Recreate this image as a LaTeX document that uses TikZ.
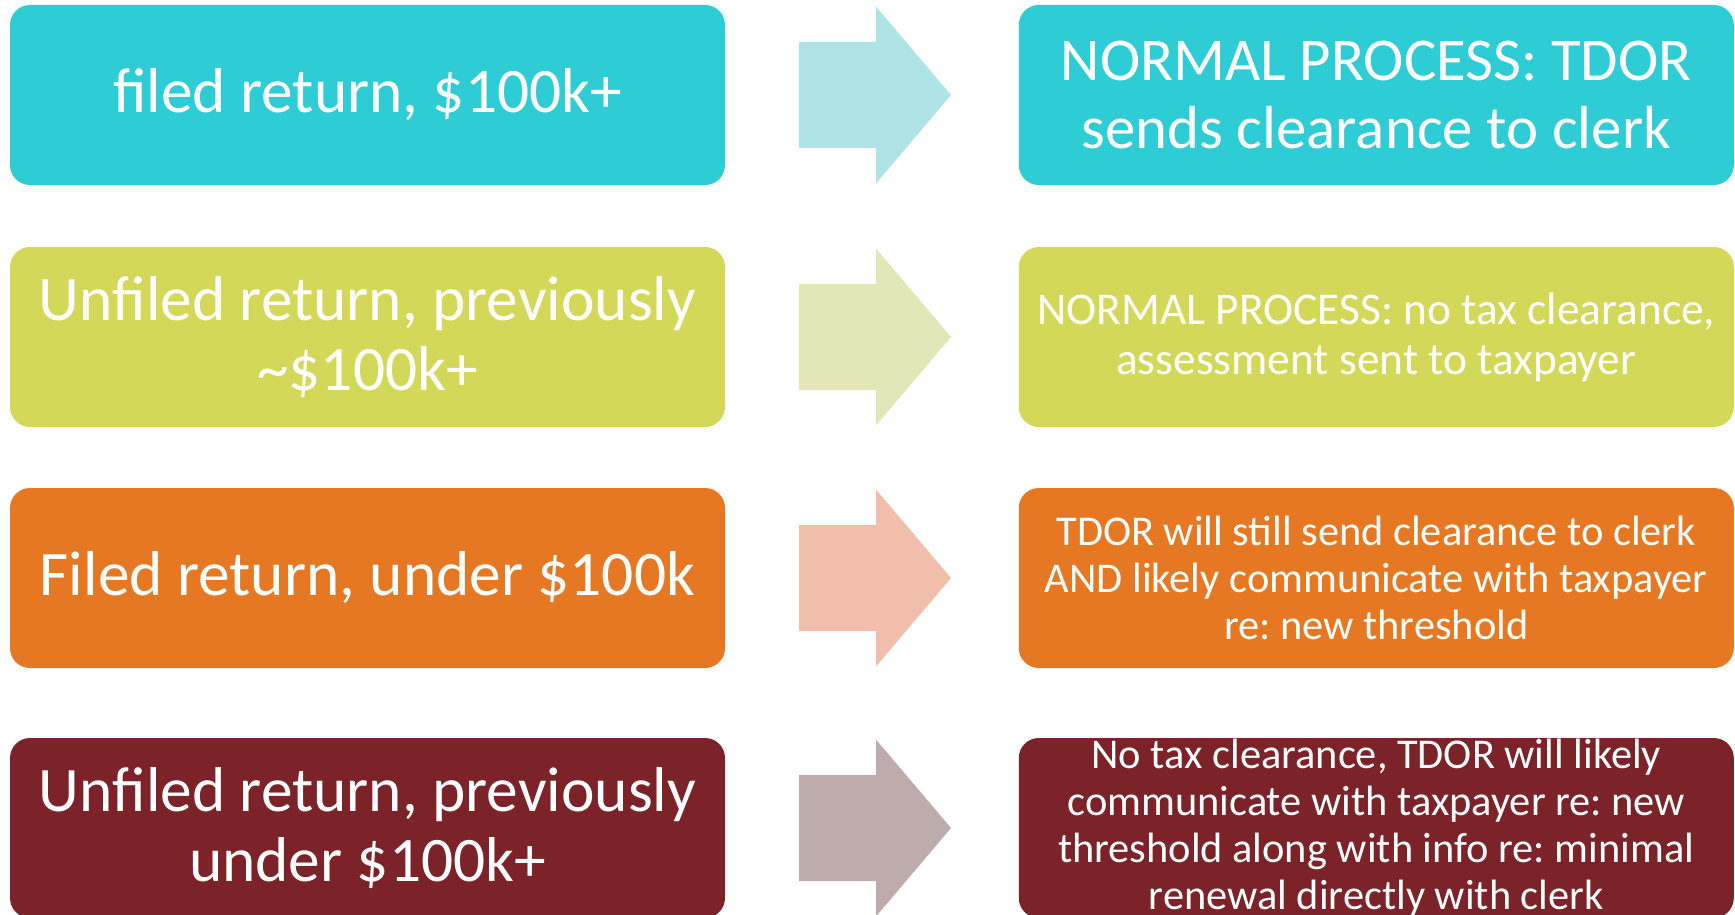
\documentclass[tikz,border=0pt]{standalone}
\usepackage{fontspec}
\setmainfont{Carlito}
\usetikzlibrary{positioning}
\frenchspacing

\definecolor{tealbox}{RGB}{46,204,212}
\definecolor{tealpale}{RGB}{176,227,230}
\definecolor{limebox}{RGB}{212,216,88}
\definecolor{limepale}{RGB}{227,230,183}
\definecolor{orangebox}{RGB}{231,120,35}
\definecolor{orangepale}{RGB}{242,190,172}
\definecolor{maroonbox}{RGB}{123,35,40}
\definecolor{maroonpale}{RGB}{190,172,172}

\tikzset{
  box/.style={rectangle, rounded corners=10pt, minimum width=357.5pt,
    minimum height=90pt, inner sep=0pt, text=white, align=center},
  bigtxt/.style={font=\fontsize{31.7}{35}\selectfont},
  midtxt/.style={font=\fontsize{30.4}{33.7}\selectfont},
  smalltxt/.style={font=\fontsize{22.7}{25}\selectfont},
  tinytxt/.style={font=\fontsize{21.2}{23.5}\selectfont},
}

\begin{document}
\begin{tikzpicture}[x=0.5pt, y=-0.5pt]
  \useasboundingbox (0,0) rectangle (1735,915);

  % left column
  \node[box, bigtxt, fill=tealbox] (l1) at (367.5,95) {filed return, \$100k+};
  \node[box, bigtxt, fill=limebox] (l2) at (367.5,337) {Unfiled return, previously\\\textasciitilde\$100k+};
  \node[box, bigtxt, fill=orangebox] (l3) at (367.5,578) {Filed return, under \$100k};
  \node[box, bigtxt, fill=maroonbox] (l4) at (367.5,828) {Unfiled return, previously\\under \$100k+};

  % right column
  \node[box, midtxt, fill=tealbox, right=146.5pt of l1] (r1) {NORMAL PROCESS: TDOR\\sends clearance to clerk};
  \node[box, smalltxt, fill=limebox, right=146.5pt of l2] (r2) {NORMAL PROCESS: no tax clearance,\\assessment sent to taxpayer};
  \node[box, tinytxt, fill=orangebox, right=146.5pt of l3] (r3) {TDOR will still send clearance to clerk\\AND likely communicate with taxpayer\\re: new threshold};
  \node[box, tinytxt, fill=maroonbox, right=146.5pt of l4] (r4) {No tax clearance, TDOR will likely\\communicate with taxpayer re: new\\threshold along with info re: minimal\\renewal directly with clerk};

  % block arrows
  \foreach \y/\c [count=\i] in {95/tealpale, 337/limepale, 578/orangepale, 828/maroonpale}{
    \coordinate (a\i) at (799,\y);
    \fill[\c] (a\i) ++(0,-53) -- ++(77,0) -- ++(0,-35.5) -- ++(75,88.5)
      -- ++(-75,88.5) -- ++(0,-35.5) -- ++(-77,0) -- cycle;
  }
\end{tikzpicture}
\end{document}
